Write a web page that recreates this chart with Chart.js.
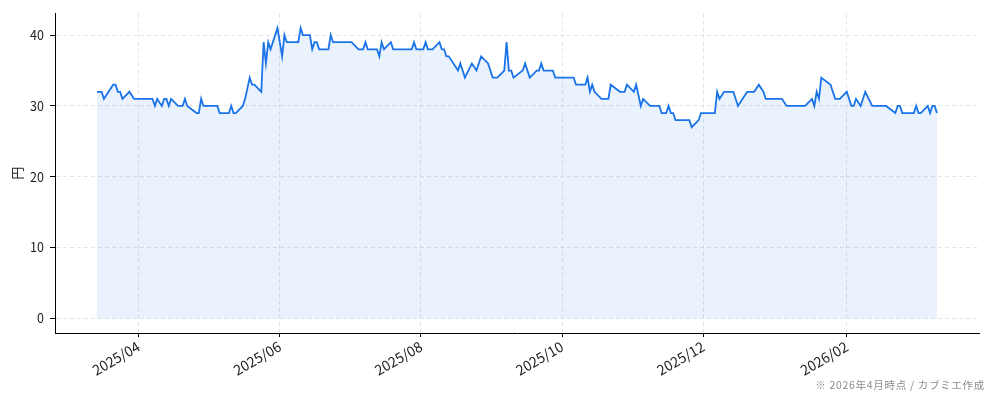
<!DOCTYPE html>
<html lang="ja">

<head>
	<meta charset="UTF-8">
	<title>株価推移 | カブミエ</title>
	<script src="https://cdn.jsdelivr.net/npm/chart.js@4/dist/chart.umd.min.js"></script>
	<style>
		html, body { margin: 0; padding: 0; background: #fff; }
		.chart_area { position: relative; width: 994px; height: 401px; }
		.chart_note {
			position: absolute; right: 9px; top: 377px;
			font: 10.5px "Noto Sans CJK JP", sans-serif; color: #8c8c8c;
			letter-spacing: 0.7px; white-space: nowrap;
		}
	</style>
</head>

<body>
	<div class="chart_area">
		<canvas id="priceChart" width="994" height="401"></canvas>
		<div class="chart_note">※ 2026年4月時点 / カブミエ作成</div>
	</div>

	<script>
		// 日付（折れ線の頂点）
		var dates = [
			'2025-03-14', '2025-03-16', '2025-03-17', '2025-03-19', '2025-03-21', '2025-03-22', '2025-03-23', '2025-03-24',
			'2025-03-25', '2025-03-28', '2025-03-30', '2025-04-07', '2025-04-08', '2025-04-09', '2025-04-11', '2025-04-12',
			'2025-04-13', '2025-04-14', '2025-04-15', '2025-04-18', '2025-04-20', '2025-04-21', '2025-04-22', '2025-04-26',
			'2025-04-27', '2025-04-28', '2025-04-29', '2025-05-05', '2025-05-06', '2025-05-10', '2025-05-11', '2025-05-12',
			'2025-05-13', '2025-05-16', '2025-05-17', '2025-05-19', '2025-05-20', '2025-05-21', '2025-05-24', '2025-05-25',
			'2025-05-26', '2025-05-27', '2025-05-28', '2025-05-31', '2025-06-02', '2025-06-03', '2025-06-04', '2025-06-09',
			'2025-06-10', '2025-06-11', '2025-06-14', '2025-06-15', '2025-06-16', '2025-06-17', '2025-06-18', '2025-06-22',
			'2025-06-23', '2025-06-24', '2025-07-02', '2025-07-05', '2025-07-07', '2025-07-08', '2025-07-09', '2025-07-13',
			'2025-07-14', '2025-07-15', '2025-07-16', '2025-07-19', '2025-07-20', '2025-07-28', '2025-07-29', '2025-07-30',
			'2025-08-02', '2025-08-03', '2025-08-04', '2025-08-06', '2025-08-09', '2025-08-10', '2025-08-11', '2025-08-12',
			'2025-08-13', '2025-08-17', '2025-08-18', '2025-08-20', '2025-08-23', '2025-08-25', '2025-08-27', '2025-08-30',
			'2025-09-01', '2025-09-03', '2025-09-06', '2025-09-07', '2025-09-08', '2025-09-09', '2025-09-10', '2025-09-14',
			'2025-09-15', '2025-09-17', '2025-09-20', '2025-09-21', '2025-09-22', '2025-09-23', '2025-09-27', '2025-09-28',
			'2025-10-06', '2025-10-07', '2025-10-11', '2025-10-12', '2025-10-13', '2025-10-14', '2025-10-15', '2025-10-18',
			'2025-10-21', '2025-10-22', '2025-10-26', '2025-10-28', '2025-10-29', '2025-11-01', '2025-11-02', '2025-11-04',
			'2025-11-05', '2025-11-08', '2025-11-12', '2025-11-13', '2025-11-15', '2025-11-16', '2025-11-17', '2025-11-18',
			'2025-11-19', '2025-11-25', '2025-11-26', '2025-11-29', '2025-11-30', '2025-12-06', '2025-12-07', '2025-12-08',
			'2025-12-10', '2025-12-14', '2025-12-16', '2025-12-18', '2025-12-20', '2025-12-23', '2025-12-25', '2025-12-27',
			'2025-12-28', '2026-01-04', '2026-01-06', '2026-01-14', '2026-01-17', '2026-01-18', '2026-01-19', '2026-01-20',
			'2026-01-21', '2026-01-25', '2026-01-27', '2026-01-29', '2026-02-01', '2026-02-03', '2026-02-04', '2026-02-05',
			'2026-02-07', '2026-02-09', '2026-02-12', '2026-02-18', '2026-02-22', '2026-02-23', '2026-02-24', '2026-02-25',
			'2026-03-02', '2026-03-03', '2026-03-04', '2026-03-05', '2026-03-08', '2026-03-09', '2026-03-10', '2026-03-11',
			'2026-03-12'
		];

		// 株価（円）
		var prices = [
			32, 32, 31, 32, 33, 33, 32, 32,
			31, 32, 31, 31, 30, 31, 30, 31,
			31, 30, 31, 30, 30, 31, 30, 29,
			29, 31, 30, 30, 29, 29, 30, 29,
			29, 30, 31, 34, 33, 33, 32, 39,
			36, 39, 38, 41, 37, 40, 39, 39,
			41, 40, 40, 38, 39, 39, 38, 38,
			40, 39, 39, 38, 38, 39, 38, 38,
			37, 39, 38, 39, 38, 38, 39, 38,
			38, 39, 38, 38, 39, 38, 38, 37,
			37, 35, 36, 34, 36, 35, 37, 36,
			34, 34, 35, 39, 35, 35, 34, 35,
			36, 34, 35, 35, 36, 35, 35, 34,
			34, 33, 33, 34, 32, 33, 32, 31,
			31, 33, 32, 32, 33, 32, 33, 30,
			31, 30, 30, 29, 29, 30, 29, 29,
			28, 28, 27, 28, 29, 29, 32, 31,
			32, 32, 30, 31, 32, 32, 33, 32,
			31, 31, 30, 30, 31, 30, 32, 31,
			34, 33, 31, 31, 32, 30, 30, 31,
			30, 32, 30, 30, 29, 30, 30, 29,
			29, 30, 29, 29, 30, 29, 30, 30,
			29
		];

		// 目盛り
		var monthTicks = ['2025-04-01', '2025-06-01', '2025-08-01', '2025-10-01', '2025-12-01', '2026-02-01'];
		var monthLabels = ['2025/04', '2025/06', '2025/08', '2025/10', '2025/12', '2026/02'];
		var yTicks = [0, 10, 20, 30, 40];

		// 2025-04-01 からの日数
		var baseTime = Date.UTC(2025, 3, 1);
		function toDay(str) {
			var p = str.split('-');
			return Math.round((Date.UTC(+p[0], +p[1] - 1, +p[2]) - baseTime) / 86400000);
		}

		var points = dates.map(function (d, i) {
			return { x: toDay(d), y: prices[i] };
		});

		// matplotlib 風の余白 (5%)
		var xFirst = points[0].x, xLast = points[points.length - 1].x;
		var xPad = (xLast - xFirst) * 0.05;
		var yMaxVal = Math.max.apply(null, prices);
		var yPad = yMaxVal * 0.05;

		Chart.defaults.font.family = '"Noto Sans CJK JP", "Noto Sans", sans-serif';
		Chart.defaults.color = '#222';

		var gridColor = '#e2e4ea';

		var priceChart = new Chart(document.getElementById('priceChart'), {
			type: 'line',
			data: {
				datasets: [{
					data: points,
					borderColor: '#1a73e8',
					borderWidth: 1.8,
					backgroundColor: 'rgba(26, 115, 232, 0.09)',
					fill: 'origin',
					pointRadius: 0,
					tension: 0
				}]
			},
			options: {
				responsive: false,
				animation: false,
				layout: {
					padding: { top: 10, right: 15, bottom: 0, left: 0 }
				},
				plugins: {
					legend: { display: false },
					tooltip: { enabled: false }
				},
				scales: {
					x: {
						type: 'linear',
						min: xFirst - xPad,
						max: xLast + xPad,
						afterBuildTicks: function (scale) {
							scale.ticks = monthTicks.map(function (d) { return { value: toDay(d) }; });
						},
						afterFit: function (scale) { scale.height = 68; },
						ticks: {
							autoSkip: false,
							minRotation: 30,
							maxRotation: 30,
							padding: 1,
							font: { size: 14 },
							color: '#222',
							callback: function (val, index) { return monthLabels[index]; }
						},
						grid: {
							color: gridColor,
							tickColor: '#000',
							tickLength: 4
						},
						border: { display: true, color: '#000', width: 1, dash: [4, 3] }
					},
					y: {
						min: -yPad,
						max: yMaxVal + yPad,
						afterBuildTicks: function (scale) {
							scale.ticks = yTicks.map(function (v) { return { value: v }; });
						},
						afterFit: function (scale) { scale.width = 55; },
						ticks: {
							padding: 6,
							font: { size: 12.5 },
							color: '#222'
						},
						grid: {
							color: gridColor,
							tickColor: '#000',
							tickLength: 5
						},
						border: { display: true, color: '#000', width: 1, dash: [4, 3] },
						title: {
							display: true,
							text: '円',
							color: '#222',
							font: { size: 13 },
							padding: { top: 9, bottom: 0 }
						}
					}
				}
			}
		});
	</script>
</body>

</html>
